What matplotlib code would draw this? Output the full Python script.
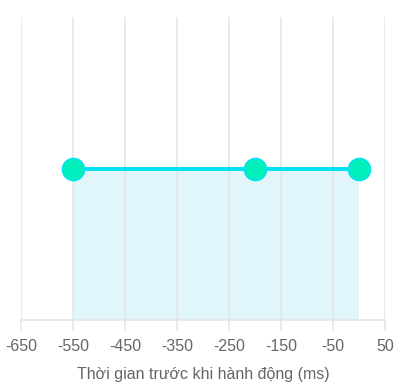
import matplotlib.pyplot as plt

# data
times = [-550, -200, 0]
values = [1, 1, 1]
x_ticks = [-650, -550, -450, -350, -250, -150, -50, 50]

plt.rcParams['font.family'] = ['Liberation Sans', 'DejaVu Sans']

fig = plt.figure(figsize=(4.03, 3.88), dpi=100)
ax = fig.add_axes([21 / 403, 1 - 320 / 388, 364 / 403, 303 / 388])

grid_col = '#e6e6e6'
ax.fill_between(times, values, 0, color='#e0f6fb', zorder=1, linewidth=0)
ax.plot(times, values, color='#00e1f5', linewidth=2.8, zorder=3,
        marker='o', markersize=16, markerfacecolor='#00efbd',
        markeredgecolor='#00e1f5', markeredgewidth=1)

ax.set_xlim(-650, 50)
ax.set_ylim(0, 2)
ax.set_xticks(x_ticks)
ax.set_xticklabels([str(t) for t in x_ticks])
ax.set_yticks([])
ax.grid(axis='x', color=grid_col, linewidth=1.2, zorder=2)
ax.set_axisbelow(False)

for s in ['top', 'left', 'right']:
    ax.spines[s].set_visible(False)
ax.spines['bottom'].set_color(grid_col)
ax.spines['bottom'].set_linewidth(1.2)
ax.tick_params(axis='x', length=8, color=grid_col, width=1.2,
               labelsize=11.5, labelcolor='#666666', pad=6)

ax.set_xlabel('Thời gian trước khi hành động (ms)', fontsize=11.5,
              color='#666666', labelpad=9)

fig.savefig('out.png', dpi=100)
